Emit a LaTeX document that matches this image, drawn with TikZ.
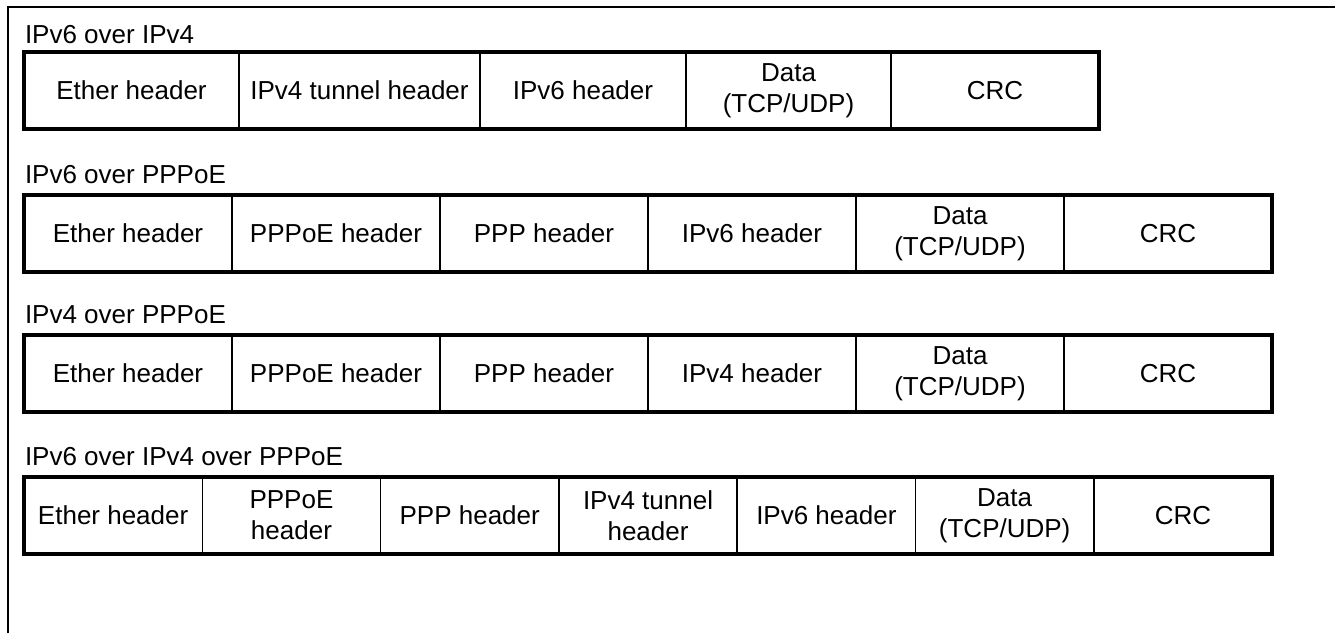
\documentclass[tikz,border=0pt]{standalone}
\usepackage{fontspec}
\setmainfont{Liberation Sans}
\usepackage{tikz}
\usetikzlibrary{positioning}

\tikzset{
	cell/.style={draw, line width=1.2pt, minimum width=#1*0.75pt, minimum height=57.75pt, inner sep=0pt, outer sep=0pt, align=center},
	rowframe/.style={line width=2.6pt},
	caption/.style={anchor=base west, inner sep=0pt, outer sep=0pt},
}

\begin{document}
\begin{tikzpicture}[x=0.75pt, y=-0.75pt, font=\fontsize{19.5pt}{23pt}\selectfont]
	%\draw[help lines, thick] (0,0) grid[step=50] (1335,633);
	\useasboundingbox (0,0) rectangle (1335,633);
	\draw[line width=1.7pt] (8,633) -- (8,7) -- (1335,7);
	% IPv6 over IPv4
	\node[caption] (la) at (25,43) {IPv6 over IPv4};
	\node[cell=215, anchor=north west] (a1) at (24,52) {Ether header};
	\node[cell=241, right=0pt of a1] (a2) {IPv4 tunnel header};
	\node[cell=206, right=0pt of a2] (a3) {IPv6 header};
	\node[cell=205, right=0pt of a3] (a4) {Data\\(TCP/UDP)};
	\node[cell=208, right=0pt of a4] (a5) {CRC};
	\draw[rowframe] (a1.north west) rectangle (a5.south east);
	% IPv6 over PPPoE
	\node[caption] (lb) at (25,183) {IPv6 over PPPoE};
	\node[cell=208, anchor=north west] (b1) at (24,195) {Ether header};
	\node[cell=208, right=0pt of b1] (b2) {PPPoE header};
	\node[cell=208, right=0pt of b2] (b3) {PPP header};
	\node[cell=208, right=0pt of b3] (b4) {IPv6 header};
	\node[cell=208, right=0pt of b4] (b5) {Data\\(TCP/UDP)};
	\node[cell=208, right=0pt of b5] (b6) {CRC};
	\draw[rowframe] (b1.north west) rectangle (b6.south east);
	% IPv4 over PPPoE
	\node[caption] (lc) at (25,323) {IPv4 over PPPoE};
	\node[cell=208, anchor=north west] (c1) at (24,335) {Ether header};
	\node[cell=208, right=0pt of c1] (c2) {PPPoE header};
	\node[cell=208, right=0pt of c2] (c3) {PPP header};
	\node[cell=208, right=0pt of c3] (c4) {IPv4 header};
	\node[cell=208, right=0pt of c4] (c5) {Data\\(TCP/UDP)};
	\node[cell=208, right=0pt of c5] (c6) {CRC};
	\draw[rowframe] (c1.north west) rectangle (c6.south east);
	% IPv6 over IPv4 over PPPoE
	\node[caption] (ld) at (25,465) {IPv6 over IPv4 over PPPoE};
	\node[cell=178.3, anchor=north west] (d1) at (24,477) {Ether header};
	\node[cell=178.3, right=0pt of d1] (d2) {PPPoE\\header};
	\node[cell=178.3, right=0pt of d2] (d3) {PPP header};
	\node[cell=178.3, right=0pt of d3] (d4) {IPv4 tunnel\\header};
	\node[cell=178.3, right=0pt of d4] (d5) {IPv6 header};
	\node[cell=178.3, right=0pt of d5] (d6) {Data\\(TCP/UDP)};
	\node[cell=178.3, right=0pt of d6] (d7) {CRC};
	\draw[rowframe] (d1.north west) rectangle (d7.south east);
\end{tikzpicture}
\end{document}
